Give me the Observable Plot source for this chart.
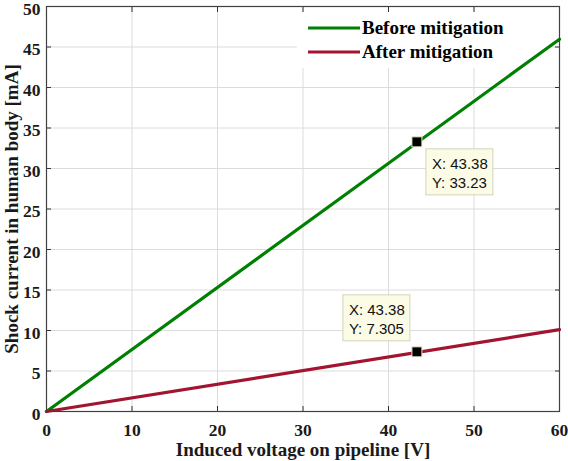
<!DOCTYPE html>
<html>
<head>
<meta charset="utf-8">
<script src="https://cdn.jsdelivr.net/npm/d3@7"></script>
<script src="https://cdn.jsdelivr.net/npm/@observablehq/plot@0.6"></script>
<style>
  html, body { margin: 0; padding: 0; background: #fff; }
</style>
</head>
<body>
<div id="chart"></div>
<script>
// ---- data ----
const voltage = [0, 60];
const beforeMitigation = [0, 45.96];
const afterMitigation = [0, 10.10];
const seriesNames = ["Before mitigation", "After mitigation"];
const seriesColors = ["#008000", "#a2142f"];
const xTicks = [0, 10, 20, 30, 40, 50, 60];
const yTicks = [0, 5, 10, 15, 20, 25, 30, 35, 40, 45, 50];
const tipX = [43.38, 43.38];
const tipY = [33.23, 7.305];
const tipLabels = [["X: 43.38", "Y: 33.23"], ["X: 43.38", "Y: 7.305"]];
const xLabel = "Induced voltage on pipeline [V]";
const yLabel = "Shock current in human body [mA]";

const rows = [];
voltage.forEach((v, i) => {
  rows.push({series: seriesNames[0], x: v, y: beforeMitigation[i]});
  rows.push({series: seriesNames[1], x: v, y: afterMitigation[i]});
});
const tips = tipX.map((x, i) => ({x, y: tipY[i], lines: tipLabels[i], side: i === 0 ? "below-right" : "above-left"}));

const serif = "'Liberation Serif', 'Times New Roman', serif";
const sans = "'Liberation Sans', Arial, Helvetica, sans-serif";

function legendMark(index, scales, values, dims) {
  const g = d3.create("svg:g");
  const right = dims.width - dims.marginRight;
  const bx = right - 262, by = dims.marginTop + 6, bw = 250, bh = 56;
  g.append("rect").attr("x", bx).attr("y", by).attr("width", bw).attr("height", bh)
    .attr("fill", "#fff").attr("stroke", "none");
  seriesNames.forEach((name, i) => {
    const cy = by + 16 + i * 24;
    g.append("line").attr("x1", bx + 11).attr("x2", bx + 63).attr("y1", cy).attr("y2", cy)
      .attr("stroke", seriesColors[i]).attr("stroke-width", 3);
    g.append("text").attr("x", bx + 65).attr("y", cy).attr("dy", "0.33em")
      .attr("text-anchor", "start")
      .attr("font-family", serif).attr("font-weight", "bold").attr("font-size", 19)
      .attr("fill", "#000").text(name);
  });
  return g.node();
}

function tipMark(index, scales, values, dims) {
  const g = d3.create("svg:g");
  tips.forEach(t => {
    const px = scales.x(t.x), py = scales.y(t.y);
    const w = 67, h = 46;
    let bx, by;
    if (t.side === "below-right") { bx = px + 9; by = py + 7; }
    else { bx = px - 7 - w; by = py - 11 - h; }
    g.append("rect").attr("x", bx).attr("y", by).attr("width", w).attr("height", h)
      .attr("fill", "#fbfbe6").attr("stroke", "#d4d4bc").attr("stroke-width", 1);
    t.lines.forEach((s, j) => {
      g.append("text").attr("x", bx + 6).attr("y", by + 15 + j * 19).attr("dy", "0.35em")
        .attr("text-anchor", "start")
        .attr("font-family", sans).attr("font-weight", "normal").attr("font-size", 15)
        .attr("fill", "#111").text(s);
    });
    g.append("rect").attr("x", px - 5).attr("y", py - 5).attr("width", 10).attr("height", 10)
      .attr("fill", "#000").attr("stroke", "#ecebc4").attr("stroke-width", 1);
  });
  return g.node();
}

const labelStyle = {fontSize: 17.5, fontWeight: "bold", fontFamily: serif, fill: "#1a1a1a"};

const chart = Plot.plot({
  width: 568,
  height: 461,
  marginLeft: 46,
  marginRight: 9,
  marginTop: 6,
  marginBottom: 50,
  style: {fontFamily: serif, fontSize: "15px", fontWeight: "bold", background: "#fff", overflow: "visible", color: "#1a1a1a"},
  x: {domain: [0, 60]},
  y: {domain: [0, 50]},
  marks: [
    Plot.gridX(xTicks, {stroke: "#dcdcdc", strokeOpacity: 1, strokeWidth: 1}),
    Plot.gridY(yTicks, {stroke: "#dcdcdc", strokeOpacity: 1, strokeWidth: 1}),
    Plot.text(xTicks, {x: d => d, frameAnchor: "bottom", dy: 19, text: d => String(d), lineAnchor: "middle", textAnchor: "middle", ...labelStyle}),
    Plot.text(yTicks, {y: d => d, frameAnchor: "left", dx: -6, dy: 2.5, text: d => String(d), lineAnchor: "middle", textAnchor: "end", ...labelStyle}),
    Plot.axisX(xTicks, {anchor: "bottom", tickSize: -5, tickFormat: () => "", label: null, stroke: "#333"}),
    Plot.axisX(xTicks, {anchor: "top", tickSize: -5, tickFormat: () => "", label: null, stroke: "#333"}),
    Plot.axisY(yTicks, {anchor: "left", tickSize: -5, tickFormat: () => "", label: null, stroke: "#333"}),
    Plot.axisY(yTicks, {anchor: "right", tickSize: -5, tickFormat: () => "", label: null, stroke: "#333"}),
    Plot.text([xLabel], {frameAnchor: "bottom", dy: 38, text: d => d, lineAnchor: "middle", textAnchor: "middle", ...labelStyle, fontSize: 19}),
    Plot.text([yLabel], {frameAnchor: "left", dx: -35, rotate: -90, text: d => d, lineAnchor: "middle", textAnchor: "middle", ...labelStyle, fontSize: 19}),
    legendMark,
    Plot.line(rows, {x: "x", y: "y", z: "series", stroke: d => seriesColors[seriesNames.indexOf(d.series)], strokeWidth: 3.2}),
    Plot.frame({stroke: "#404040", strokeWidth: 1.2}),
    tipMark
  ]
});
document.getElementById("chart").appendChild(chart);
</script>
</body>
</html>
